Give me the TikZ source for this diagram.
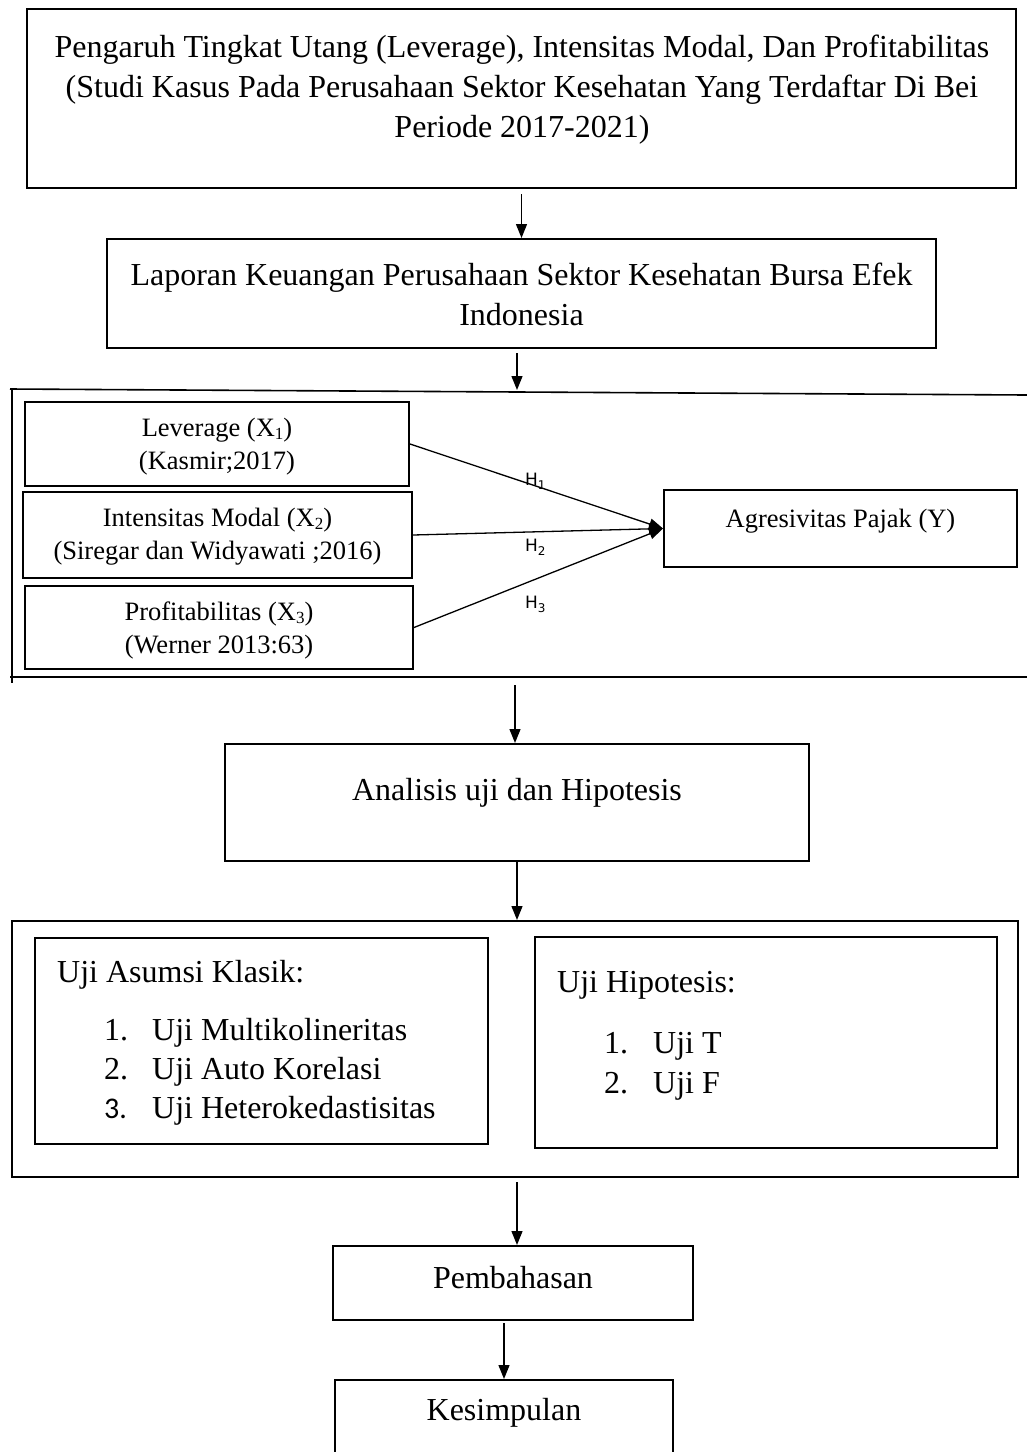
\documentclass[tikz,border=0pt]{standalone}
\usepackage{fontspec}
\setmainfont{Liberation Serif}
\newfontfamily\hfont{DejaVu Sans}
\newfontfamily\calfont{Carlito}
\usetikzlibrary{arrows.meta}
\newcommand{\subx}[1]{\raisebox{-3pt}{\fontsize{17}{17}\selectfont #1}}
\newcommand{\subh}[1]{\raisebox{-4pt}{\fontsize{12}{12}\selectfont #1}}
\begin{document}
\begin{tikzpicture}[x=1pt,y=-1pt,
  box/.style={draw, line width=2pt, inner sep=0pt},
  frameline/.style={line width=1.6pt},
  big/.style={inner sep=0pt, align=center, font=\fontsize{32}{40}\selectfont},
  small/.style={inner sep=0pt, align=center, font=\fontsize{26.5}{33}\selectfont},
  conn/.style={line width=1.3pt, -{Triangle[length=14pt,width=11pt]}},
  hlab/.style={inner sep=0pt, anchor=base west, font=\hfont\fontsize{17}{17}\selectfont},
]
\clip (0,0) rectangle (1027,1452);
\useasboundingbox (0,0) rectangle (1027,1452);

% boxes
\node[box, minimum width=989pt, minimum height=179pt] (b1) at (521.5,98.5) {};
\node[box, minimum width=829pt, minimum height=109pt] (b2) at (521.5,293.5) {};
\node[box, minimum width=384pt, minimum height=84pt] (lev) at (217,444) {};
\node[box, minimum width=389pt, minimum height=86pt] (int) at (217.5,535) {};
\node[box, minimum width=388pt, minimum height=83pt] (prof) at (219,627.5) {};
\node[box, minimum width=353pt, minimum height=77pt] (agr) at (840.5,528.5) {};
\node[box, minimum width=584pt, minimum height=117pt] (ana) at (517,802.5) {};
\node[box, minimum width=1006pt, minimum height=256pt] (outer) at (515,1049) {};
\node[box, minimum width=453pt, minimum height=206pt] (linner) at (261.5,1041) {};
\node[box, minimum width=462pt, minimum height=211pt] (rinner) at (766,1042.5) {};
\node[box, minimum width=360pt, minimum height=74pt] (pem) at (513,1283) {};
\node[box, minimum width=338pt, minimum height=120pt] (kes) at (504,1440) {};

% framework frame (open on the right)
\coordinate (fTL) at (12,389);
\coordinate (fBL) at (12,683);
\coordinate (fTop) at (517,390);
\coordinate (fBot) at (515,677);
\draw[frameline] (10,389) -- (1027,395);
\draw[frameline] (fTL) -- (fBL);
\draw[frameline] (10,677) -- (1027,677);

% texts
\node[big] (t1) at (522,90) {Pengaruh Tingkat Utang (Leverage), Intensitas Modal, Dan Profitabilitas\\(Studi Kasus Pada Perusahaan Sektor Kesehatan Yang Terdaftar Di Bei\\Periode 2017-2021)};
\node[big] (t2) at (521.5,294) {Laporan Keuangan Perusahaan Sektor Kesehatan Bursa Efek\\Indonesia};
\node[small] (tlev) at (217,447) {Leverage (X\subx{1})\\(Kasmir;2017)};
\node[small] (tint) at (217.5,537) {Intensitas Modal (X\subx{2})\\(Siregar dan Widyawati ;2016)};
\node[small] (tprof) at (219,630) {Profitabilitas (X\subx{3})\\(Werner 2013:63)};
\node[small] (tagr) at (840.5,521) {Agresivitas Pajak (Y)};
\node[big] (tana) at (517,793) {Analisis uji dan Hipotesis};
\node[big, anchor=base west] (tl0) at (57,982.5) {Uji Asumsi Klasik:};
\node[big, anchor=base west] (tl1) at (104,1040.5) {\makebox[48pt][l]{1.}Uji Multikolineritas};
\node[big, anchor=base west] (tl2) at (104,1079.5) {\makebox[48pt][l]{2.}Uji Auto Korelasi};
\node[big, anchor=base west] (tl3) at (104,1118.5) {\makebox[48pt][l]{\calfont\fontsize{30}{40}\selectfont 3.}Uji Heterokedastisitas};
\node[big, anchor=base west] (tr0) at (557,992.5) {Uji Hipotesis:};
\node[big, anchor=base west] (tr1) at (604,1053.5) {\makebox[49pt][l]{1.}Uji T};
\node[big, anchor=base west] (tr2) at (604,1093.5) {\makebox[49pt][l]{2.}Uji F};
\node[big] (tpem) at (513,1278) {Pembahasan};
\node[big] (tkes) at (504,1413) {Kesimpulan};

% hypothesis labels
\node[hlab] (h1) at (525,485) {H\subh{1}};
\node[hlab] (h2) at (525,551) {H\subh{2}};
\node[hlab] (h3) at (525,608) {H\subh{3}};

% connectors
\draw[conn, shorten <=5pt] (b1) -- (b2);
\draw[conn, shorten <=4pt] (b2.south -| fTop) -- (fTop);
\draw[conn, shorten <=8pt] (fBot) -- (fBot |- ana.north);
\draw[conn] (ana.south) -- (ana.south |- outer.north);
\draw[conn, shorten <=4pt] (outer.south -| ana.south) -- (ana.south |- pem.north);
\draw[conn, shorten <=2pt] (pem.south -| kes.north) -- (kes.north);
\draw[conn] (lev.east) -- (agr.west);
\draw[conn] (int.east) -- (agr.west);
\draw[conn] (prof.east) -- (agr.west);
\end{tikzpicture}
\end{document}
